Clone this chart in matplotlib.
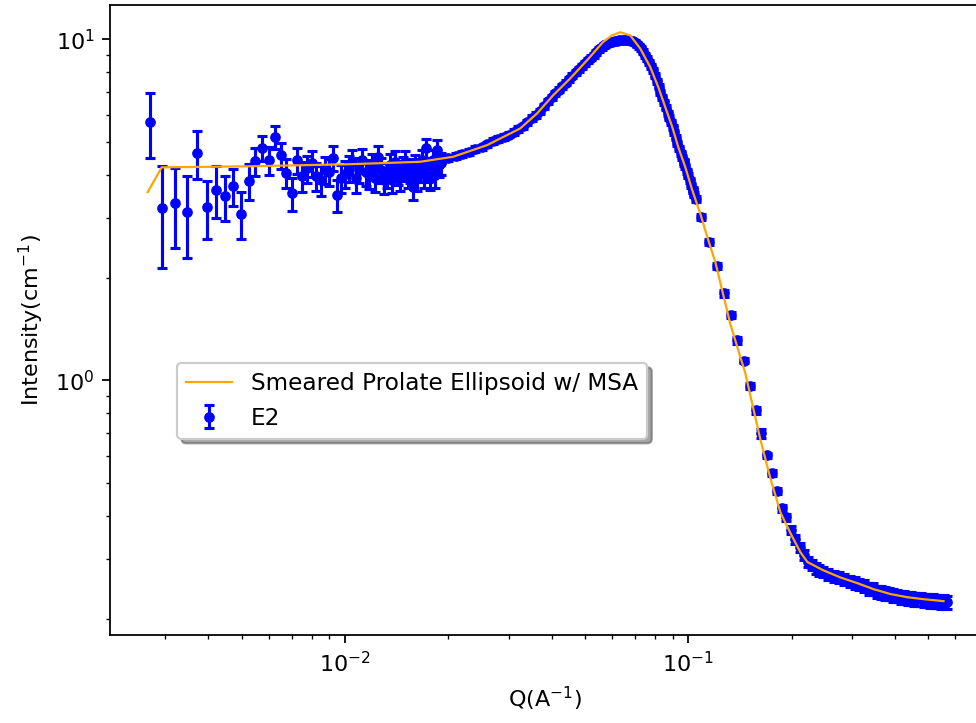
"""SANS curve E2 with smeared prolate ellipsoid (MSA) fit, log-log."""

import matplotlib
matplotlib.use("Agg")
import matplotlib.pyplot as plt

# low-q detector setting (noisy)
q_low = [0.002701, 0.002933, 0.003209, 0.003470, 0.003721, 0.003968,
         0.004225, 0.004477, 0.004724, 0.004998, 0.005250, 0.005484,
         0.00575, 0.00600, 0.00625, 0.00650, 0.00675, 0.00700, 0.00725,
         0.00750, 0.00775, 0.00800, 0.00825, 0.00850, 0.00875, 0.00900,
         0.00925, 0.00950, 0.00975, 0.01000, 0.01025, 0.01050, 0.01075,
         0.01100, 0.01125, 0.01150, 0.01175, 0.01200, 0.01225, 0.01250,
         0.01275, 0.01300, 0.01325, 0.01350, 0.01375, 0.01400, 0.01425,
         0.01450, 0.01475, 0.01500, 0.01525, 0.01550, 0.01575, 0.01600,
         0.01625, 0.01650, 0.01675, 0.01700, 0.01725, 0.01750, 0.01775,
         0.01800, 0.01825, 0.01850, 0.01875, 0.01900]
i_low = [5.72, 3.19, 3.32, 3.12, 4.64, 3.22,
         3.62, 3.46, 3.71, 3.08, 3.84, 4.39,
         4.79, 4.42, 5.15, 4.57, 4.05, 3.53, 4.42,
         3.96, 4.18, 4.33, 3.96, 3.86, 4.13, 4.07,
         4.48, 3.49, 3.91, 4.02, 4.18, 4.36, 3.91,
         4.13, 4.42, 4.07, 3.99, 4.27, 3.91, 4.51,
         4.13, 3.86, 3.99, 4.27, 3.86, 4.36, 4.07,
         3.91, 4.18, 4.36, 3.99, 4.13, 3.69, 4.27,
         3.91, 4.13, 4.42, 3.99, 4.79, 4.13, 3.93,
         4.42, 3.99, 4.73, 4.27, 4.33]
di_low = [1.25, 1.05, 0.88, 0.84, 0.75, 0.62,
          0.63, 0.52, 0.46, 0.48, 0.47, 0.42,
          0.41, 0.41, 0.40, 0.40, 0.40, 0.39, 0.39,
          0.39, 0.38, 0.38, 0.38, 0.38, 0.37, 0.37,
          0.37, 0.37, 0.36, 0.36, 0.36, 0.36, 0.36,
          0.35, 0.35, 0.35, 0.35, 0.35, 0.34, 0.34,
          0.34, 0.34, 0.34, 0.34, 0.33, 0.33, 0.33,
          0.33, 0.33, 0.33, 0.33, 0.33, 0.32, 0.32,
          0.32, 0.32, 0.32, 0.32, 0.32, 0.32, 0.32,
          0.32, 0.32, 0.32, 0.32, 0.32]

# medium-q setting (odd thousandths)
q_mid = [0.017, 0.019, 0.021, 0.023, 0.025, 0.027, 0.029, 0.031, 0.033,
         0.035, 0.037, 0.039, 0.041, 0.043, 0.045, 0.047, 0.049, 0.051,
         0.053, 0.055, 0.057, 0.059, 0.061, 0.063, 0.065, 0.067, 0.069,
         0.071, 0.073, 0.075, 0.077, 0.079, 0.081, 0.083, 0.085, 0.087,
         0.089, 0.091, 0.093, 0.095, 0.097, 0.099, 0.101, 0.103, 0.105]
i_mid = [4.36, 4.42, 4.54, 4.68, 4.82, 5.02, 5.16, 5.34, 5.56,
         5.87, 6.15, 6.58, 6.94, 7.28, 7.63, 8.00, 8.33, 8.68,
         8.98, 9.35, 9.60, 9.80, 9.87, 9.93, 9.93, 9.93, 9.87,
         9.67, 9.41, 8.98, 8.56, 8.11, 7.53, 6.99, 6.54, 6.07,
         5.71, 5.34, 4.95, 4.63, 4.39, 4.10, 3.86, 3.61, 3.40]
di_mid = [0.09, 0.09, 0.09, 0.09, 0.09, 0.10, 0.10, 0.10, 0.10,
          0.11, 0.11, 0.12, 0.12, 0.13, 0.13, 0.14, 0.14, 0.15,
          0.15, 0.15, 0.16, 0.16, 0.16, 0.16, 0.16, 0.16, 0.16,
          0.16, 0.15, 0.15, 0.14, 0.13, 0.12, 0.11, 0.11, 0.10,
          0.09, 0.09, 0.08, 0.08, 0.07, 0.07, 0.07, 0.06, 0.06]

# medium-q setting (even thousandths)
q_mid2 = [0.018, 0.020, 0.022, 0.024, 0.026, 0.028, 0.030, 0.032, 0.034,
          0.036, 0.038, 0.040, 0.042, 0.044, 0.046, 0.048, 0.050, 0.052,
          0.054, 0.056, 0.058, 0.060, 0.062, 0.064, 0.066, 0.068, 0.070,
          0.072, 0.074, 0.076, 0.078, 0.080, 0.082, 0.084, 0.086, 0.088,
          0.090, 0.092, 0.094, 0.096, 0.098, 0.100, 0.102, 0.104]
i_mid2 = [4.39, 4.48, 4.60, 4.76, 4.92, 5.09, 5.25, 5.45, 5.71,
          6.00, 6.36, 6.76, 7.11, 7.46, 7.82, 8.17, 8.51, 8.83,
          9.16, 9.47, 9.70, 9.83, 9.90, 9.93, 9.93, 9.90, 9.77,
          9.54, 9.19, 8.77, 8.33, 7.82, 7.26, 6.76, 6.30, 5.89,
          5.52, 5.14, 4.79, 4.51, 4.24, 3.98, 3.73, 3.50]
di_mid2 = [0.09, 0.09, 0.09, 0.09, 0.09, 0.10, 0.10, 0.10, 0.10,
           0.11, 0.11, 0.12, 0.12, 0.13, 0.13, 0.14, 0.14, 0.15,
           0.15, 0.15, 0.16, 0.16, 0.16, 0.16, 0.16, 0.16, 0.16,
           0.16, 0.15, 0.15, 0.14, 0.13, 0.12, 0.11, 0.11, 0.10,
           0.09, 0.09, 0.08, 0.08, 0.07, 0.07, 0.07, 0.06]

# high-q setting
q_high = [0.097, 0.103, 0.109, 0.115, 0.121, 0.127, 0.133, 0.139, 0.145,
          0.151, 0.157, 0.163, 0.169, 0.175, 0.181, 0.187, 0.193, 0.199,
          0.205, 0.211, 0.217, 0.223, 0.229, 0.235, 0.241, 0.247,
          0.255, 0.265, 0.275, 0.285, 0.295, 0.305, 0.315, 0.325, 0.335,
          0.345, 0.355, 0.365, 0.375, 0.385, 0.395, 0.405, 0.415, 0.425,
          0.435, 0.445, 0.455, 0.465, 0.475, 0.485, 0.495, 0.505, 0.515,
          0.525, 0.535, 0.545, 0.555, 0.565]
i_high = [4.33, 3.61, 3.01, 2.54, 2.16, 1.80, 1.55, 1.31, 1.14,
          0.960, 0.817, 0.699, 0.603, 0.534, 0.473, 0.421, 0.396, 0.363,
          0.342, 0.324, 0.307, 0.294, 0.287, 0.281, 0.277, 0.274,
          0.270, 0.266, 0.264, 0.261, 0.257, 0.254, 0.252, 0.249, 0.245,
          0.244, 0.240, 0.239, 0.237, 0.236, 0.234, 0.233, 0.231, 0.231,
          0.229, 0.229, 0.228, 0.228, 0.228, 0.226, 0.226, 0.225, 0.226,
          0.225, 0.225, 0.223, 0.225, 0.223]
di_high = [0.08, 0.07, 0.06, 0.05, 0.04, 0.04, 0.03, 0.03, 0.02,
           0.02, 0.02, 0.02, 0.01, 0.01, 0.01, 0.01, 0.01, 0.01,
           0.01, 0.01, 0.01, 0.01, 0.01, 0.01, 0.01, 0.01,
           0.01, 0.01, 0.01, 0.01, 0.01, 0.01, 0.01, 0.01, 0.01,
           0.01, 0.01, 0.01, 0.01, 0.01, 0.01, 0.01, 0.01, 0.01,
           0.01, 0.01, 0.01, 0.01, 0.01, 0.01, 0.01, 0.01, 0.01,
           0.01, 0.01, 0.01, 0.01, 0.01]

# fitted model curve
q_fit = [0.002665, 0.002928, 0.005284, 0.01034, 0.01654, 0.02065, 0.02594,
         0.03237, 0.03629, 0.04042, 0.04529, 0.05076, 0.05652, 0.06003,
         0.06333, 0.06773, 0.07246, 0.07748, 0.08174, 0.08568, 0.08981,
         0.09349, 0.0980, 0.1027, 0.1084, 0.1136, 0.1199, 0.1326, 0.1466,
         0.1622, 0.1734, 0.1855, 0.1984, 0.2121, 0.2223, 0.2475, 0.2774,
         0.3110, 0.3462, 0.3881, 0.4350, 0.4843, 0.5539]
i_fit = [3.56, 4.21, 4.24, 4.30, 4.37, 4.52, 4.89,
         5.47, 6.06, 6.85, 7.67, 8.68, 9.82, 10.27,
         10.48, 10.27, 9.39, 8.29, 7.25, 6.33, 5.53,
         4.83, 4.22, 3.61, 3.08, 2.63, 2.22, 1.46, 1.048,
         0.670, 0.516, 0.410, 0.356, 0.313, 0.293, 0.277, 0.264,
         0.254, 0.244, 0.236, 0.231, 0.228, 0.225]

q_data = q_low + q_mid + q_mid2 + q_high
i_data = i_low + i_mid + i_mid2 + i_high
di_data = di_low + di_mid + di_mid2 + di_high

fig = plt.figure(figsize=(6.1, 4.51875), dpi=160)
ax = fig.add_axes([0.1127, 0.1217, 0.892, 0.8714])

ax.errorbar(q_data, i_data, yerr=di_data, fmt="o", color="blue",
            ms=3.8, capsize=2.3, elinewidth=1.4, capthick=1.4, label="E2",
            zorder=2)
ax.plot(q_fit, i_fit, color="orange", lw=1.0, zorder=3,
        label="Smeared Prolate Ellipsoid w/ MSA")

ax.set_xscale("log")
ax.set_yscale("log")
ax.set_xlim(0.00207, 0.71)
ax.set_ylim(0.179, 12.6)
ax.set_xlabel("Q(A$^{-1}$)")
ax.set_ylabel("Intensity(cm$^{-1}$)")

ax.legend(loc="upper left", bbox_to_anchor=(0.077, 0.432),
          borderaxespad=0, shadow=True, fontsize=10.4)

fig.savefig("out.png", dpi=160)
